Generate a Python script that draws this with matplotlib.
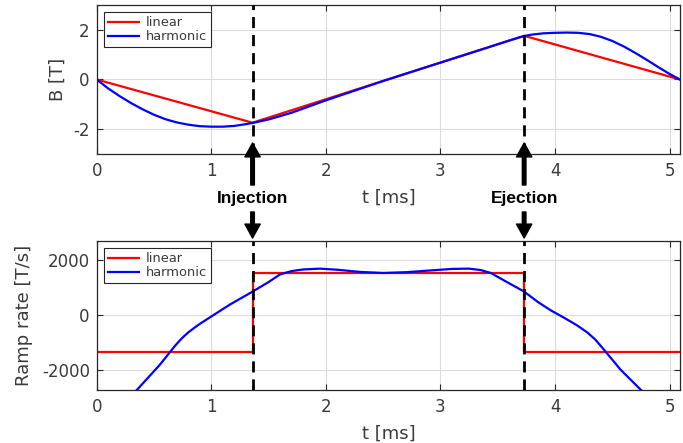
import matplotlib
matplotlib.use("Agg")
import matplotlib.pyplot as plt

# event times [ms]
t_inj = 1.36
t_ej = 3.73
t_end = 5.09

# B field, linear ramp
t_lin = [0, t_inj, t_ej, t_end]
B_lin = [0, -1.74, 1.76, 0]

# B field, harmonic ramp
t_harm = [0, 0.1, 0.2, 0.3, 0.4, 0.5, 0.6, 0.7, 0.8, 0.9, 1.0, 1.1, 1.2, 1.3,
          1.36, 1.5, 1.7, 2.0, 2.5, 3.0, 3.4, 3.6, 3.73, 3.8, 3.9, 4.0, 4.1,
          4.2, 4.3, 4.4, 4.5, 4.6, 4.7, 4.8, 4.9, 5.0, 5.09]
B_harm = [0, -0.36, -0.67, -0.95, -1.2, -1.42, -1.6, -1.73, -1.82, -1.88, -1.9,
          -1.9, -1.87, -1.8, -1.75, -1.61, -1.34, -0.84, -0.06, 0.68, 1.27,
          1.57, 1.75, 1.81, 1.86, 1.88, 1.89, 1.88, 1.83, 1.72, 1.55, 1.33,
          1.07, 0.79, 0.5, 0.22, 0]

# ramp rate, linear (step levels)
t_step = [0, t_inj, t_ej, t_end]
R_lin = [-1360, 1520, -1360, -1360]

# ramp rate, harmonic
t_rate = [0, 0.2, 0.35, 0.45, 0.55, 0.64, 0.68, 0.72, 0.76, 0.8, 0.85, 0.9,
          1.0, 1.16, 1.36, 1.5, 1.6, 1.7, 1.8, 1.95, 2.1, 2.3, 2.5, 2.7, 2.9,
          3.1, 3.25, 3.35, 3.44, 3.52, 3.73, 3.85, 3.96, 4.08, 4.19, 4.28,
          4.35, 4.44, 4.57, 4.75, 4.9, 5.09]
R_harm = [-4300, -3400, -2750, -2290, -1830, -1360, -1150, -960, -790, -640,
          -480, -330, -60, 370, 850, 1200, 1480, 1600, 1660, 1690, 1650, 1570,
          1530, 1560, 1620, 1680, 1690, 1640, 1530, 1340, 850, 470, 170, -110,
          -380, -640, -900, -1340, -2000, -2750, -3400, -4300]

txt = "#3a3a3a"
edge = "#262626"
plt.rcParams["font.family"] = "DejaVu Sans"
plt.rcParams["axes.unicode_minus"] = False

fig = plt.figure(figsize=(6.83, 4.43), dpi=100)
ax1 = fig.add_axes([0.1416, 0.6524, 0.854, 0.3363])
ax2 = fig.add_axes([0.1416, 0.1196, 0.854, 0.3363])

ax1.plot(t_lin, B_lin, color="red", lw=1.6, label="linear")
ax1.plot(t_harm, B_harm, color="blue", lw=1.6, label="harmonic")
ax1.set_ylim(-3, 3)
ax1.set_yticks([-2, 0, 2])
ax1.set_ylabel("B [T]", fontsize=13, color=txt)
ax1.yaxis.set_label_coords(-0.051, 0.5)

ax2.step(t_step, R_lin, where="post", color="red", lw=1.6, label="linear")
ax2.plot(t_rate, R_harm, color="blue", lw=1.6, label="harmonic")
ax2.set_ylim(-2750, 2700)
ax2.set_yticks([-2000, 0, 2000])
ax2.set_ylabel("Ramp rate [T/s]", fontsize=13, color=txt)
ax2.yaxis.set_label_coords(-0.109, 0.5)

for ax in (ax1, ax2):
    ax.set_xlim(0, t_end)
    ax.set_xticks([0, 1, 2, 3, 4, 5])
    ax.set_xlabel("t [ms]", fontsize=13, color=txt)
    ax.xaxis.set_label_coords(0.5, -0.235)
    ax.grid(True, color="#dcdcdc", lw=0.8)
    ax.set_axisbelow(True)
    ax.tick_params(direction="in", length=4, width=0.8, top=True, right=True,
                   labelsize=12, labelcolor=txt, color=edge)
    ax.tick_params(axis="x", pad=6)
    ax.tick_params(axis="y", pad=5)
    for s in ax.spines.values():
        s.set_color(edge)
        s.set_linewidth(0.9)
    for t in (t_inj, t_ej):
        ax.axvline(t, color="black", lw=2, ls=(0, (4, 2.5)), zorder=4)
    leg = ax.legend(loc="upper left", bbox_to_anchor=(0, 1), borderaxespad=0.55,
                    fontsize=9.4, fancybox=False, framealpha=1, borderpad=0.3,
                    labelspacing=0.1, handlelength=2.4, handletextpad=0.5)
    leg.get_frame().set_edgecolor(edge)
    leg.get_frame().set_linewidth(0.8)
    for tx in leg.get_texts():
        tx.set_color(txt)

# arrows and labels between the panels
arrow = dict(facecolor="black", edgecolor="black", width=2.6, headwidth=11,
             headlength=10, shrink=0)
for t, name in ((t_inj, "Injection"), (t_ej, "Ejection")):
    ax1.annotate("", xy=(t, 300), xytext=(t, 258),
                 xycoords=("data", "figure pixels"),
                 textcoords=("data", "figure pixels"),
                 arrowprops=arrow, annotation_clip=False)
    ax1.annotate("", xy=(t, 205), xytext=(t, 231),
                 xycoords=("data", "figure pixels"),
                 textcoords=("data", "figure pixels"),
                 arrowprops=arrow, annotation_clip=False)
    ax1.annotate(name, xy=(t, 244), xycoords=("data", "figure pixels"),
                 ha="center", va="center", fontsize=12.5, fontweight="bold",
                 family="Liberation Sans", color="black", annotation_clip=False)

fig.savefig("out.png", dpi=100)
